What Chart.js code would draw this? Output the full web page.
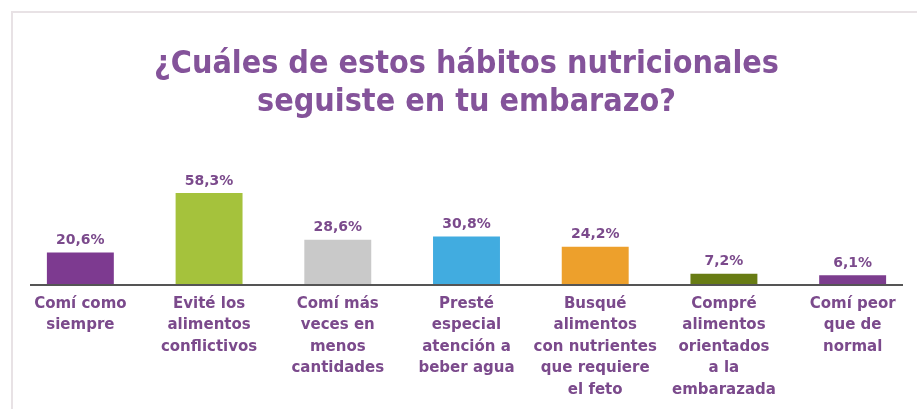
<!DOCTYPE html>
<html>
<head>
<meta charset="utf-8">
<script src="https://cdn.jsdelivr.net/npm/chart.js@4/dist/chart.umd.min.js"></script>
<style>
  html, body { margin: 0; padding: 0; background: #ffffff; }
  #wrap { position: relative; width: 917px; height: 409px; }
  #frame { position: absolute; left: 11px; top: 11px; right: 0; bottom: 0;
           border-top: 2px solid #e8e2e5; border-left: 2px solid #e8e2e5; }
  #chart { position: absolute; left: 0; top: 0; }
</style>
</head>
<body>
<div id="wrap">
  <div id="frame"></div>
  <canvas id="chart" width="917" height="409"></canvas>
</div>
<script>
// ---------- DATA ----------
const categories = [
    ["Comí como", "siempre"],
    ["Evité los", "alimentos", "conflictivos"],
    ["Comí más", "veces en", "menos", "cantidades"],
    ["Presté", "especial", "atención a", "beber agua"],
    ["Busqué", "alimentos", "con nutrientes", "que requiere", "el feto"],
    ["Compré", "alimentos", "orientados", "a la", "embarazada"],
    ["Comí peor", "que de", "normal"]
];
const percentages = [20.6, 58.3, 28.6, 30.8, 24.2, 7.2, 6.1];
const barColors = ["#7d3a90", "#a5c23c", "#c9c9c9", "#41ace0", "#eda02c", "#687c14", "#7c3d8e"];

const purple = "#7b4a8c";
const labelFont = "bold 14px 'DejaVu Sans'";

// ---------- value labels + baseline ----------
const valueLabels = {
    id: "valueLabels",
    afterDatasetsDraw(chart) {
        const ctx = chart.ctx;
        const meta = chart.getDatasetMeta(0);
        ctx.save();
        ctx.font = labelFont;
        ctx.fillStyle = purple;
        ctx.textAlign = "center";
        ctx.textBaseline = "middle";
        meta.data.forEach(function(bar, i){
            let txt = percentages[i].toFixed(1).replace(".", ",") + "%";
            ctx.fillText(txt, bar.x, bar.y - 12);
        });
        // base line
        let yb = chart.scales.y.getPixelForValue(0);
        ctx.strokeStyle = "#555555";
        ctx.lineWidth = 2;
        ctx.beginPath();
        ctx.moveTo(30, yb);
        ctx.lineTo(903, yb);
        ctx.stroke();
        ctx.restore();
    }
};

new Chart(document.getElementById("chart"), {
    type: "bar",
    data: {
        labels: categories,
        datasets: [{
            data: percentages,
            backgroundColor: barColors,
            borderWidth: 0,
            barPercentage: 0.52,
            categoryPercentage: 1
        }]
    },
    options: {
        responsive: false,
        animation: false,
        layout: { padding: { left: 16, right: 0, top: 0, bottom: 0 } },
        plugins: {
            legend: { display: false },
            tooltip: { enabled: false },
            title: {
                display: true,
                text: ["¿Cuáles de estos hábitos nutricionales", "seguiste en tu embarazo?"],
                color: "#84539a",
                font: { family: "'DejaVu Sans Condensed'", size: 32, weight: "bold", lineHeight: 1.19 },
                padding: { top: 46, bottom: 5 }
            }
        },
        scales: {
            x: {
                grid: { display: false, drawTicks: false },
                border: { display: false },
                ticks: {
                    color: purple,
                    padding: 8,
                    maxRotation: 0,
                    autoSkip: false,
                    font: { family: "'DejaVu Sans'", size: 15, weight: "bold", lineHeight: 1.44 }
                },
                afterFit: function(scale){ scale.height = 124; }
            },
            y: {
                display: false,
                min: 0,
                max: 100
            }
        }
    },
    plugins: [valueLabels]
});
</script>
</body>
</html>
